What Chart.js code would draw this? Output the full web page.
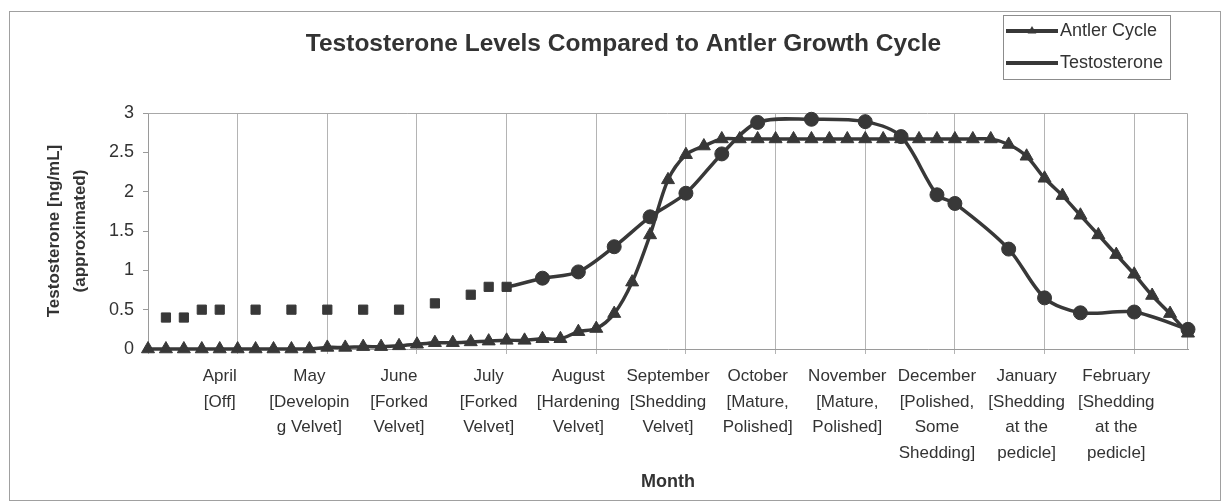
<!DOCTYPE html>
<html>
<head>
<meta charset="utf-8">
<title>Testosterone Levels Compared to Antler Growth Cycle</title>
<script src="https://cdn.jsdelivr.net/npm/chart.js@4.4.1/dist/chart.umd.min.js"></script>
<style>
  html, body { margin: 0; padding: 0; background: #fff; }
  #wrap { width: 1222px; height: 502px; }
</style>
</head>
<body>
<div id="wrap"><canvas id="antlerChart" width="1222" height="502"></canvas></div>
<script>
// month labels, one per 5 samples
const monthLabels = [
    ['April', '[Off]'],
    ['May', '[Developin', 'g Velvet]'],
    ['June', '[Forked', 'Velvet]'],
    ['July', '[Forked', 'Velvet]'],
    ['August', '[Hardening', 'Velvet]'],
    ['September', '[Shedding', 'Velvet]'],
    ['October', '[Mature,', 'Polished]'],
    ['November', '[Mature,', 'Polished]'],
    ['December', '[Polished,', 'Some', 'Shedding]'],
    ['January', '[Shedding', 'at the', 'pedicle]'],
    ['February', '[Shedding', 'at the', 'pedicle]']
];

// antler cycle (triangles), 59 samples
const antlerCycle = [
    0, 0, 0, 0, 0, 0, 0, 0, 0, 0,
    0.02, 0.02, 0.03, 0.03, 0.04, 0.06, 0.08, 0.08, 0.09, 0.1,
    0.11, 0.11, 0.13, 0.13, 0.22, 0.26, 0.45, 0.85, 1.45, 2.15,
    2.47, 2.58, 2.67, 2.67, 2.67, 2.67, 2.67, 2.67, 2.67, 2.67,
    2.67, 2.67, 2.67, 2.67, 2.67, 2.67, 2.67, 2.67, 2.6, 2.45,
    2.17, 1.95, 1.7, 1.45, 1.2, 0.95, 0.68, 0.45, 0.2
];

// testosterone (squares early, then circles joined by a line)
const testosterone = [
    null, 0.4, 0.4, 0.5, 0.5, null, 0.5, null, 0.5, null,
    0.5, null, 0.5, null, 0.5, null, 0.58, null, 0.69, 0.79,
    0.79, null, 0.9, null, 0.98, null, 1.3, null, 1.68, null,
    1.98, null, 2.48, null, 2.88, null, null, 2.92, null, null,
    2.89, null, 2.7, null, 1.96, 1.85, null, null, 1.27, null,
    0.65, null, 0.46, null, null, 0.47, null, null, 0.25
];

const LABEL_STEP = 5;
const LABEL_START = 4;
const LAST_LOOSE = 20; // testosterone samples up to here have no connecting line
const lineColor = '#383838';
const fontFamily = '"Liberation Sans", Arial, sans-serif';

const categories = antlerCycle.map((v, i) =>
    i % LABEL_STEP === LABEL_START ? monthLabels[(i - LABEL_START) / LABEL_STEP] : '');

// white page, outer frame and plot-area border
const framePlugin = {
    id: 'frame',
    beforeDraw(chart) {
        const { ctx, width, height } = chart;
        ctx.save();
        ctx.fillStyle = '#fff';
        ctx.fillRect(0, 0, width, height);
        ctx.strokeStyle = '#a0a0a0';
        ctx.lineWidth = 1;
        ctx.strokeRect(9.5, 11.5, width - 11, height - 13);
        ctx.restore();
    },
    beforeDatasetsDraw(chart) {
        const { ctx, chartArea: a } = chart;
        ctx.save();
        ctx.strokeStyle = '#a8a8a8';
        ctx.lineWidth = 1;
        ctx.beginPath();
        ctx.moveTo(a.left, a.top + 0.5);
        ctx.lineTo(a.right - 0.5, a.top + 0.5);
        ctx.lineTo(a.right - 0.5, a.bottom);
        ctx.stroke();
        ctx.restore();
    }
};

// boxed legend in the top right corner
const boxLegend = {
    id: 'boxLegend',
    afterDraw(chart, args, opts) {
        const { ctx } = chart;
        const { left, top, width, height } = opts;
        const sets = chart.data.datasets;
        const rowH = height / sets.length;
        ctx.save();
        ctx.strokeStyle = '#8c8c8c';
        ctx.lineWidth = 1;
        ctx.strokeRect(left + 0.5, top + 0.5, width, height);
        sets.forEach((ds, i) => {
            const cy = top + rowH * (i + 0.5);
            ctx.strokeStyle = ds.borderColor;
            ctx.lineWidth = 4;
            ctx.beginPath();
            ctx.moveTo(left + 3, cy);
            ctx.lineTo(left + 55, cy);
            ctx.stroke();
            if (ds.legendMarker === 'triangle') {
                const mx = left + 29, r = 5;
                ctx.fillStyle = ds.borderColor;
                ctx.beginPath();
                ctx.moveTo(mx, cy - r);
                ctx.lineTo(mx + r * 0.87, cy + r * 0.5);
                ctx.lineTo(mx - r * 0.87, cy + r * 0.5);
                ctx.closePath();
                ctx.fill();
            }
            ctx.fillStyle = '#333';
            ctx.font = '18px ' + fontFamily;
            ctx.textBaseline = 'middle';
            ctx.textAlign = 'left';
            ctx.fillText(ds.label, left + 57, cy);
        });
        ctx.restore();
    }
};

function initChart() {
    const ctx = document.getElementById('antlerChart').getContext('2d');
    new Chart(ctx, {
        type: 'line',
        data: {
            labels: categories,
            datasets: [{
                label: 'Antler Cycle',
                data: antlerCycle,
                borderColor: lineColor,
                backgroundColor: lineColor,
                borderWidth: 3.5,
                tension: 0.3,
                pointStyle: 'triangle',
                pointRadius: 7.5,
                pointBorderWidth: 1,
                clip: false,
                legendMarker: 'triangle'
            }, {
                label: 'Testosterone',
                data: testosterone,
                borderColor: lineColor,
                backgroundColor: lineColor,
                borderWidth: 3.5,
                tension: 0.3,
                spanGaps: true,
                pointStyle: c => (c.dataIndex <= LAST_LOOSE ? 'rect' : 'circle'),
                pointRadius: c => (c.dataIndex <= LAST_LOOSE ? 6.5 : 7),
                pointBorderWidth: 1,
                clip: false,
                segment: {
                    borderColor: c => (c.p1DataIndex <= LAST_LOOSE ? 'rgba(0,0,0,0)' : lineColor)
                }
            }]
        },
        options: {
            responsive: false,
            animation: false,
            devicePixelRatio: 1,
            layout: { padding: { left: 59, right: 34, top: 0, bottom: 0 } },
            font: { family: fontFamily },
            plugins: {
                legend: { display: false },
                tooltip: { enabled: false },
                title: {
                    display: true,
                    text: 'Testosterone Levels Compared to Antler Growth Cycle',
                    color: '#333',
                    font: { family: fontFamily, size: 24.5, weight: 'bold' },
                    padding: { top: 29.5, bottom: 54.1 }
                },
                boxLegend: { left: 1003, top: 15, width: 167, height: 64 }
            },
            scales: {
                x: {
                    offset: false,
                    grid: {
                        color: c => (c.index % LABEL_STEP === 0 ? '#b4b4b4' : 'rgba(0,0,0,0)'),
                        tickLength: 5,
                        lineWidth: 1
                    },
                    border: { color: '#9a9a9a' },
                    ticks: {
                        autoSkip: false,
                        maxRotation: 0,
                        minRotation: 0,
                        padding: 10,
                        color: '#333',
                        font: { family: fontFamily, size: 17, lineHeight: 1.5 }
                    },
                    title: {
                        display: true,
                        text: 'Month',
                        color: '#333',
                        font: { family: fontFamily, size: 18, weight: 'bold' },
                        padding: { top: 0, bottom: 9 }
                    },
                    afterFit(scale) { scale.height = 153; }
                },
                y: {
                    min: 0,
                    max: 3,
                    ticks: {
                        stepSize: 0.5,
                        padding: 9,
                        color: '#333',
                        font: { family: fontFamily, size: 18 },
                        callback: value => String(value)
                    },
                    grid: {
                        drawOnChartArea: false,
                        tickLength: 5,
                        color: '#9a9a9a'
                    },
                    border: { color: '#9a9a9a' },
                    title: {
                        display: true,
                        text: ['Testosterone [ng/mL]', '(approximated)'],
                        color: '#333',
                        font: { family: fontFamily, size: 17, weight: 'bold', lineHeight: 26 / 17 },
                        padding: { top: -18, bottom: 0 }
                    },
                    afterFit(scale) { scale.width = 89; }
                }
            }
        },
        plugins: [framePlugin, boxLegend]
    });
}

document.addEventListener('DOMContentLoaded', initChart);
</script>
</body>
</html>
